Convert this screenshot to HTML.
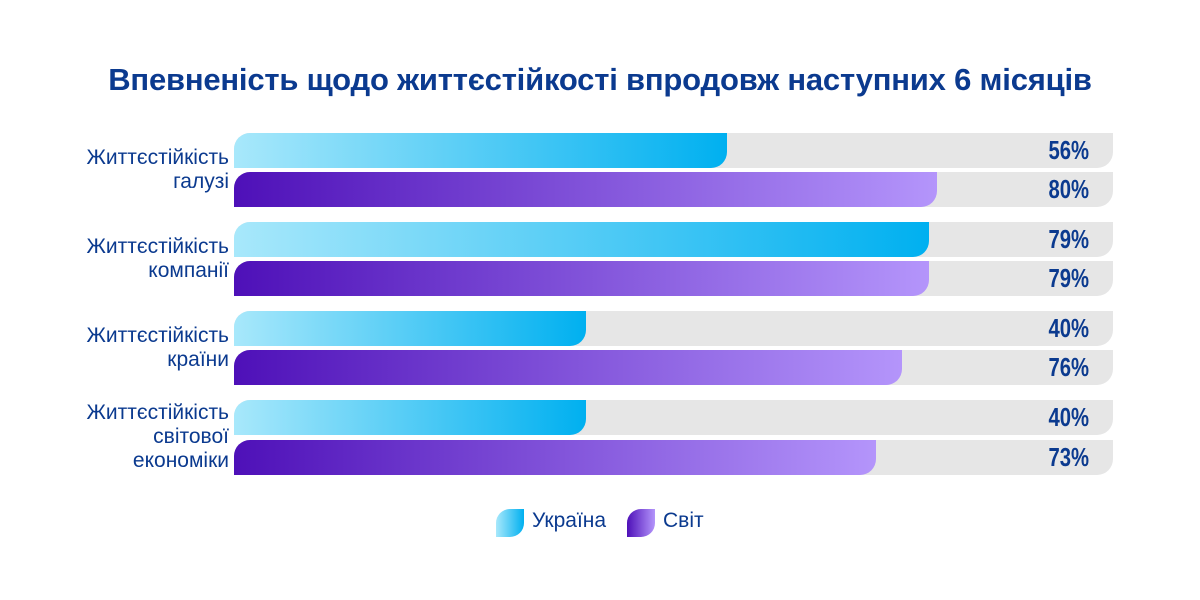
<!DOCTYPE html>
<html><head><meta charset="utf-8"><style>
body{margin:0;width:1200px;height:600px;background:#fff;position:relative;overflow:hidden;font-family:"Liberation Sans",sans-serif;color:#0b3a8f}
.t{position:absolute;left:0;width:1200px;top:62px;text-align:center;font-size:31px;font-weight:bold;color:#0b3a8f;letter-spacing:-0.2px}
.tr,.b{position:absolute;height:35px;border-radius:16px 0 16px 0}
.tr{left:234px;width:879px;background:#e6e6e6}
.u{background:linear-gradient(90deg,#a8e8fb,#00b0f0)}
.w{background:linear-gradient(90deg,#4e10b8,#b495fb)}
.p{position:absolute;right:111px;font-family:"Liberation Sans Narrow","Liberation Sans",sans-serif;font-weight:bold;font-size:26px;transform:scaleX(.78);transform-origin:right;line-height:35px}
.l{position:absolute;right:971px;text-align:right;font-size:21px;line-height:24px}
.lg{position:absolute;top:509px;font-size:21px}
.dot{position:absolute;top:509px;width:28px;height:28px;border-radius:14px 0 14px 0}
</style></head><body>
<div class="t">Впевненість щодо життєстійкості впродовж наступних 6 місяців</div>

<div class="tr" style="top:133px"></div><div class="b u" style="left:234px;top:133px;width:493px"></div><div class="p" style="top:133px">56%</div>
<div class="tr" style="top:172px"></div><div class="b w" style="left:234px;top:172px;width:703px"></div><div class="p" style="top:172px">80%</div>
<div class="l" style="top:146px">Життєстійкість<br>галузі</div>

<div class="tr" style="top:222px"></div><div class="b u" style="left:234px;top:222px;width:695px"></div><div class="p" style="top:222px">79%</div>
<div class="tr" style="top:261px"></div><div class="b w" style="left:234px;top:261px;width:695px"></div><div class="p" style="top:261px">79%</div>
<div class="l" style="top:235px">Життєстійкість<br>компанії</div>

<div class="tr" style="top:311px"></div><div class="b u" style="left:234px;top:311px;width:352px"></div><div class="p" style="top:311px">40%</div>
<div class="tr" style="top:350px"></div><div class="b w" style="left:234px;top:350px;width:668px"></div><div class="p" style="top:350px">76%</div>
<div class="l" style="top:324px">Життєстійкість<br>країни</div>

<div class="tr" style="top:400px"></div><div class="b u" style="left:234px;top:400px;width:352px"></div><div class="p" style="top:400px">40%</div>
<div class="tr" style="top:440px"></div><div class="b w" style="left:234px;top:440px;width:642px"></div><div class="p" style="top:440px">73%</div>
<div class="l" style="top:401px">Життєстійкість<br>світової<br>економіки</div>

<div class="dot u" style="left:496px"></div><div class="lg" style="left:532px">Україна</div>
<div class="dot w" style="left:627px"></div><div class="lg" style="left:663px">Світ</div>
</body></html>
